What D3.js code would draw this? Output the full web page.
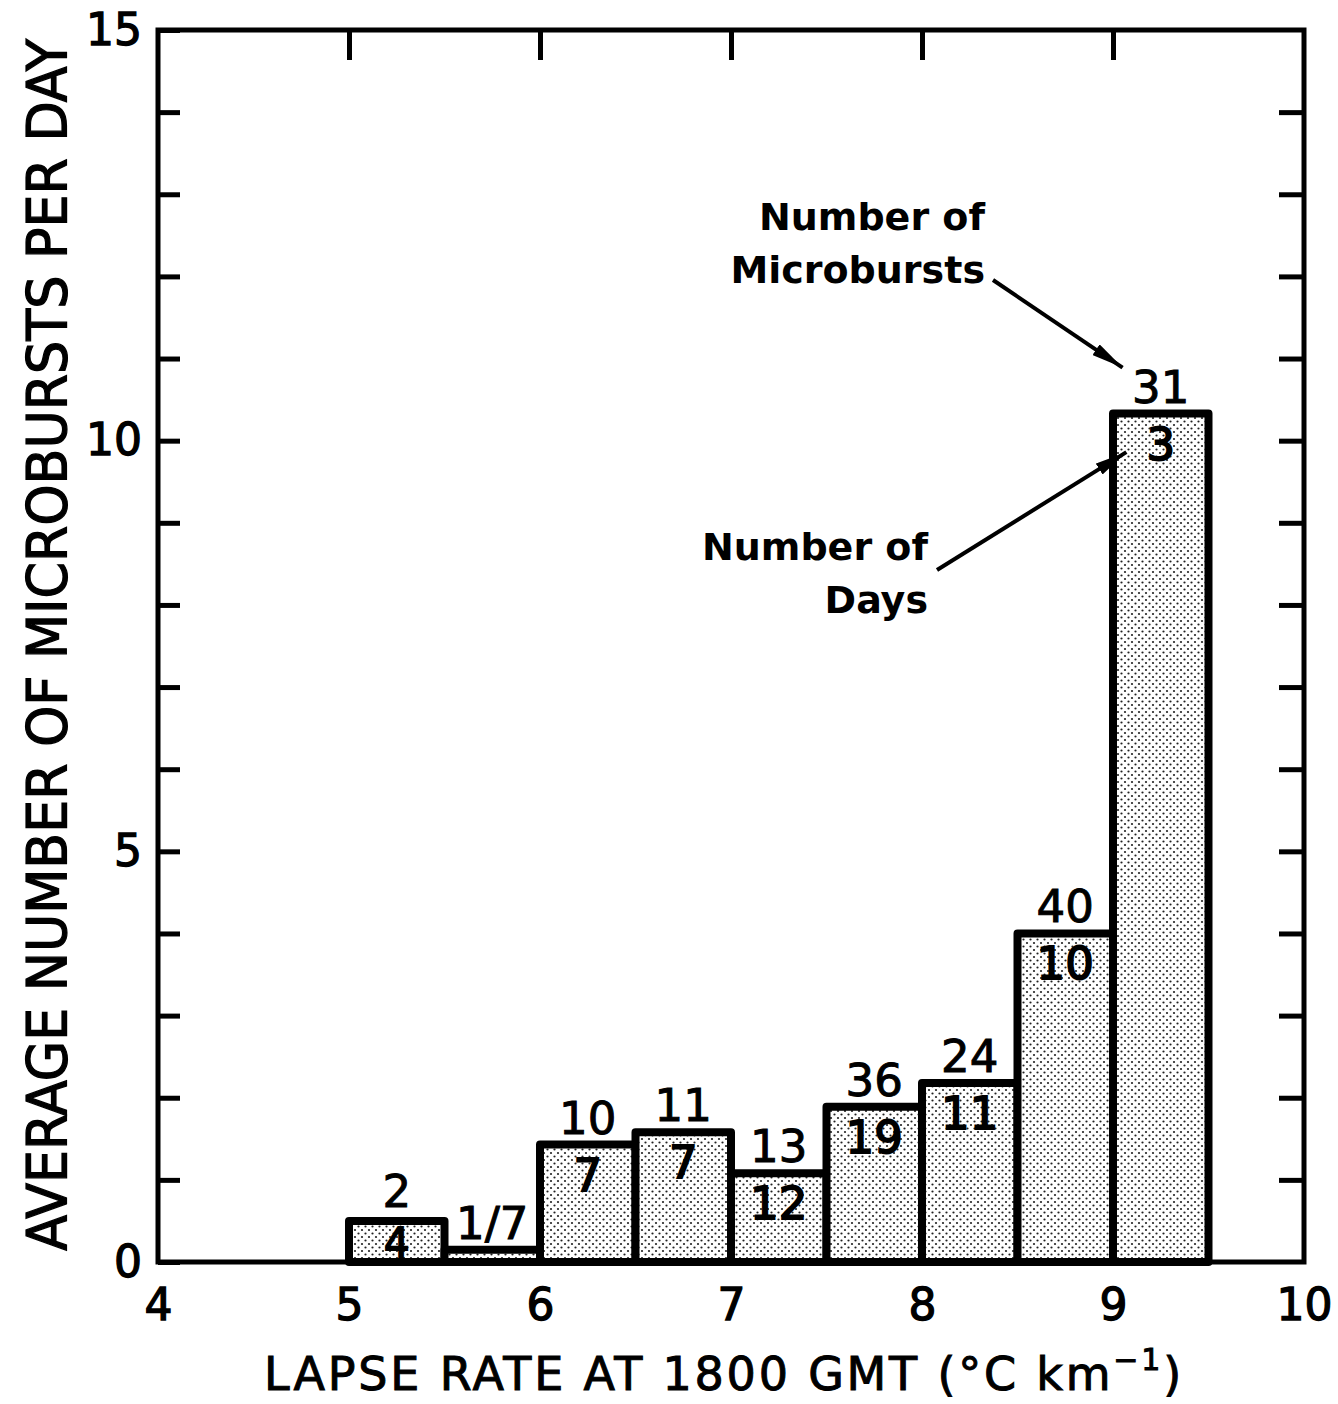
<!DOCTYPE html>
<html>
<head>
<meta charset="utf-8">
<script src="https://cdn.jsdelivr.net/npm/d3@7"></script>
<style>
  body { margin: 0; background: #fff; }
  svg text { font-family: "DejaVu Sans", sans-serif; fill: #000; }
</style>
</head>
<body>
<div id="chart"></div>
<script>
// lapse-rate bins (left edge, width 0.5 °C/km)
const binStart = [5.0, 5.5, 6.0, 6.5, 7.0, 7.5, 8.0, 8.5, 9.0]
const binWidth = 0.5
// average number of microbursts per day
const avgPerDay = [0.5, 0.15, 1.43, 1.58, 1.08, 1.89, 2.18, 4.0, 10.33]
// number of microbursts (above bar) and number of days (inside bar)
const microbursts = [2, 1, 10, 11, 13, 36, 24, 40, 31]
const days = [4, 7, 7, 7, 12, 19, 11, 10, 3]
const xTicks = [4, 5, 6, 7, 8, 9, 10]
const yTicks = [0, 5, 10, 15]

const W = 1338, H = 1404
const plot = {left: 158, right: 1304, top: 30, bottom: 1262}

const svg = d3.select("#chart").append("svg")
  .attr("width", W).attr("height", H)

// stipple fill like the print
const defs = svg.append("defs")
const pat = defs.append("pattern").attr("id", "dots")
  .attr("patternUnits", "userSpaceOnUse").attr("width", 7).attr("height", 7)
pat.append("rect").attr("width", 7).attr("height", 7).attr("fill", "#fff")
pat.append("circle").attr("cx", 1.5).attr("cy", 1.5).attr("r", 1.1).attr("fill", "#222")
pat.append("circle").attr("cx", 5).attr("cy", 5).attr("r", 1.1).attr("fill", "#222")

defs.append("marker").attr("id", "arrow")
  .attr("viewBox", "0 0 20 8").attr("refX", 20).attr("refY", 4)
  .attr("markerWidth", 8).attr("markerHeight", 3.2).attr("markerUnits", "strokeWidth")
  .attr("orient", "auto")
  .append("path").attr("d", "M0,0 L20,4 L0,8 Z").attr("fill", "#000")

const x = d3.scaleLinear().domain([4, 10]).range([plot.left, plot.right])
const y = d3.scaleLinear().domain([0, 15]).range([plot.bottom, plot.top])

// bars
svg.append("g").selectAll("rect")
  .data(binStart)
  .enter().append("rect")
  .attr("x", d => x(d))
  .attr("width", d => x(d + binWidth) - x(d))
  .attr("y", (d, i) => y(avgPerDay[i]))
  .attr("height", (d, i) => y(0) - y(avgPerDay[i]))
  .attr("fill", "url(#dots)")
  .attr("stroke", "#000")
  .attr("stroke-width", 8)
  .attr("stroke-linejoin", "round")

// frame
svg.append("rect")
  .attr("x", x(4)).attr("y", y(15))
  .attr("width", x(10) - x(4)).attr("height", y(0) - y(15))
  .attr("fill", "none").attr("stroke", "#000").attr("stroke-width", 5)

// axes
const yAll = d3.range(0, 16)
const axisL = svg.append("g").attr("transform", "translate(" + plot.left + ",0)")
  .call(d3.axisLeft(y).tickValues(yAll).tickSize(-22).tickPadding(16)
    .tickFormat(d => yTicks.includes(d) ? d : ""))
const axisR = svg.append("g").attr("transform", "translate(" + plot.right + ",0)")
  .call(d3.axisRight(y).tickValues(yAll.slice(1, 15)).tickSize(-25).tickFormat(""))
const axisB = svg.append("g").attr("transform", "translate(0," + plot.bottom + ")")
  .call(d3.axisBottom(x).tickValues(xTicks).tickSize(0).tickPadding(27).tickFormat(d3.format("d")))
const axisT = svg.append("g").attr("transform", "translate(0," + plot.top + ")")
  .call(d3.axisTop(x).tickValues(xTicks.slice(1, 6)).tickSize(-30).tickFormat(""))

svg.selectAll(".domain").remove()
svg.selectAll(".tick line").attr("stroke", "#000").attr("stroke-width", 5)
svg.selectAll(".tick text").attr("font-size", 44)
  .style("font-family", "DejaVu Sans, sans-serif")
  .attr("stroke", "#000").attr("stroke-width", 1.3)

// bar labels
const lab = svg.append("g").attr("font-size", 45).attr("text-anchor", "middle")
  .attr("stroke", "#000").attr("stroke-width", 1)
binStart.forEach((d, i) => {
  const cx = x(d + binWidth / 2)
  const yt = y(avgPerDay[i])
  if (y(0) - yt < 40) {
    lab.append("text").attr("x", cx).attr("y", yt - 11).text(microbursts[i] + "/" + days[i])
  } else {
    const low = y(0) - yt < 60
    lab.append("text").attr("x", cx).attr("y", yt - (low ? 14 : 11)).text(microbursts[i])
    lab.append("text").attr("x", cx).attr("y", Math.min(yt + 46, y(0) - 5))
      .attr("font-size", low ? 40 : 45)
      .attr("stroke-width", 1.8).text(days[i])
  }
})

// annotations
const ann = svg.append("g").attr("font-size", 38).attr("font-weight", "bold").attr("text-anchor", "end")
ann.append("text").attr("x", 985).attr("y", 230).text("Number of")
ann.append("text").attr("x", 985).attr("y", 283).text("Microbursts")
ann.append("text").attr("x", 928).attr("y", 560).text("Number of")
ann.append("text").attr("x", 928).attr("y", 613).text("Days")

svg.append("line")
  .attr("x1", 993).attr("y1", 280).attr("x2", x(9.05)).attr("y2", y(10.89))
  .attr("stroke", "#000").attr("stroke-width", 4).attr("marker-end", "url(#arrow)")
svg.append("line")
  .attr("x1", 937).attr("y1", 570).attr("x2", x(9.07)).attr("y2", y(9.86))
  .attr("stroke", "#000").attr("stroke-width", 4).attr("marker-end", "url(#arrow)")

// axis titles
const xt = svg.append("text")
  .attr("x", 724).attr("y", 1390).attr("text-anchor", "middle")
  .attr("font-size", 46).attr("letter-spacing", 2.8)
  .attr("stroke", "#000").attr("stroke-width", 1)
xt.append("tspan").text("LAPSE RATE AT 1800 GMT (°C km")
xt.append("tspan").attr("font-size", 30).attr("dy", -20).text("−1")
xt.append("tspan").attr("dy", 20).text(")")

// y title: condensed lettering squeezed to the plot height
const yt = svg.append("text")
  .attr("text-anchor", "middle")
  .attr("font-size", 56)
  .style("font-family", "DejaVu Sans Condensed, DejaVu Sans, sans-serif")
  .style("font-stretch", "condensed")
  .attr("stroke", "#000").attr("stroke-width", 1.2)
  .text("AVERAGE NUMBER OF MICROBURSTS PER DAY")
const k = 1212 / yt.node().getComputedTextLength()
yt.attr("transform", "translate(66,645) rotate(-90) scale(" + k + ",1)")
</script>
</body>
</html>
